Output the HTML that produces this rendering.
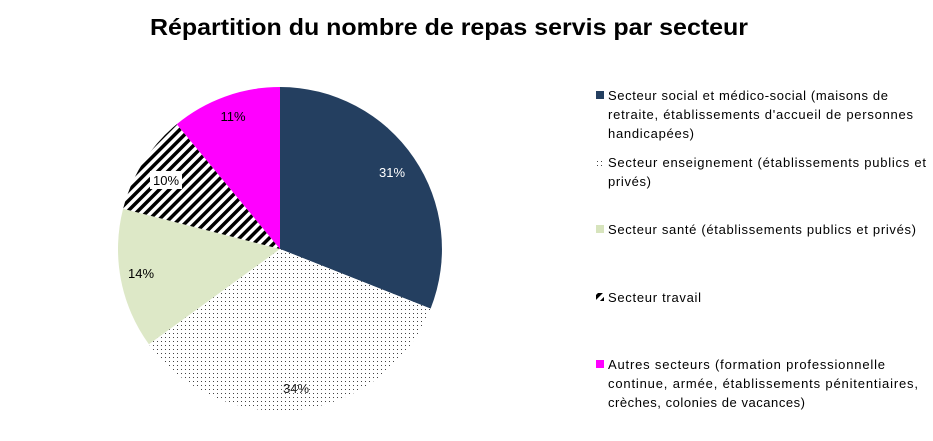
<!DOCTYPE html>
<html><head><meta charset="utf-8"><style>
html,body{margin:0;padding:0;background:#fff;}
svg{display:block;font-family:"Liberation Sans",sans-serif;}
</style></head><body>
<svg width="933" height="441" viewBox="0 0 933 441" xmlns="http://www.w3.org/2000/svg">
<defs>
<pattern id="dots" width="4" height="4" patternUnits="userSpaceOnUse">
<rect width="4" height="4" fill="#fff"/><rect x="1" y="1" width="1" height="1" fill="#444"/>
</pattern>
<pattern id="hatch" width="7" height="7" patternUnits="userSpaceOnUse" patternTransform="rotate(45)">
<rect width="7" height="7" fill="#fff"/><rect width="3.5" height="7" fill="#000"/>
</pattern>
</defs>
<text x="449" y="35" text-anchor="middle" font-size="23" font-weight="bold" fill="#000" textLength="598" lengthAdjust="spacingAndGlyphs">Répartition du nombre de repas servis par secteur</text>
<path d="M280,249 L280,87 A162,162 0 0 1 430.6,308.6 Z" fill="#243f60"/>
<path d="M280,249 L430.6,308.6 A162,162 0 0 1 148.9,344.2 Z" fill="url(#dots)"/>
<path d="M280,249 L148.9,344.2 A162,162 0 0 1 123.1,208.7 Z" fill="#d7e4bd" opacity="0.85"/>
<path d="M280,249 L123.1,208.7 A162,162 0 0 1 176.7,124.2 Z" fill="url(#hatch)"/>
<path d="M280,249 L176.7,124.2 A162,162 0 0 1 280,87 Z" fill="#ff00ff"/>
<g font-size="13">
<text x="392" y="177" text-anchor="middle" fill="#fff">31%</text>
<text x="233" y="121" text-anchor="middle" fill="#000">11%</text>
<rect x="150" y="171" width="32" height="18" fill="#fff"/>
<text x="166" y="185" text-anchor="middle" fill="#000">10%</text>
<text x="141" y="278" text-anchor="middle" fill="#000">14%</text>
<text x="296" y="393" text-anchor="middle" fill="#222">34%</text>
</g>
<rect x="596" y="91" width="8" height="8" fill="#243f60"/>
<rect x="596" y="158" width="8" height="8" fill="url(#dots)"/>
<rect x="596" y="225" width="8" height="8" fill="#d7e4bd"/>
<rect x="596" y="293" width="8" height="8" fill="url(#hatch)"/>
<rect x="596" y="360" width="8" height="8" fill="#ff00ff"/>
<g font-size="13" fill="#000" lengthAdjust="spacingAndGlyphs">
<text x="608" y="100" textLength="280">Secteur social et médico-social (maisons de</text>
<text x="608" y="119" textLength="305">retraite, établissements d'accueil de personnes</text>
<text x="608" y="138" textLength="86">handicapées)</text>
<text x="608" y="167" textLength="318">Secteur enseignement (établissements publics et</text>
<text x="608" y="186" textLength="43">privés)</text>
<text x="608" y="234" textLength="308">Secteur santé (établissements publics et privés)</text>
<text x="608" y="302" textLength="93">Secteur travail</text>
<text x="608" y="369" textLength="277">Autres secteurs (formation professionnelle</text>
<text x="608" y="388" textLength="310">continue, armée, établissements pénitentiaires,</text>
<text x="608" y="407" textLength="197">crèches, colonies de vacances)</text>
</g>
</svg>
</body></html>
